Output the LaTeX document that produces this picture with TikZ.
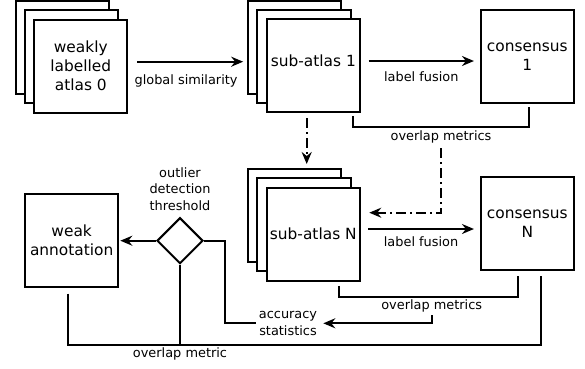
\documentclass[tikz,border=0pt]{standalone}
\usepackage{fontspec}
\setmainfont{DejaVu Sans}
\usetikzlibrary{arrows.meta,shapes.geometric}

\newcommand{\cardfont}{\fontsize{15.4}{19}\selectfont}
\newcommand{\tagfont}{\fontsize{12.9}{16.5}\selectfont}

\tikzset{
  card/.style={draw, line width=2pt, fill=white, minimum width=93.3pt,
    minimum height=93pt, inner sep=0pt, align=center, font=\cardfont},
  gate/.style={draw, line width=2pt, diamond, aspect=1, minimum size=46pt,
    inner sep=0pt},
  tag/.style={font=\tagfont, align=center, inner sep=1pt},
  wire/.style={line width=2pt},
  link/.style={wire, -{Stealth[length=12pt, width=10pt, inset=4pt]}},
  dashlink/.style={link, dash pattern=on 10pt off 4pt on 2pt off 4pt},
}

\begin{document}
\begin{tikzpicture}[x=1pt, y=-1pt]
\useasboundingbox (0,0) rectangle (585,368);

% weakly labelled atlas, three sheets
\node[card] (a0c) at (62.3,47.5) {};
\node[card] (a0b) at (71.5,56.8) {};
\node[card] (a0) at (80.8,66) {weakly\\labelled\\atlas 0};

% first sub-atlas
\node[card] (s1c) at (294.8,47) {};
\node[card] (s1b) at (304,56.2) {};
\node[card, text depth=9pt] (s1) at (313.3,65.5) {sub-atlas 1};

% last sub-atlas
\node[card] (sNc) at (294.8,215.5) {};
\node[card] (sNb) at (304,224.8) {};
\node[card] (sN) at (313.3,234) {sub-atlas N};

\node[card] (con1) at (527.3,56.3) {consensus\\1};
\node[card] (conN) at (527.3,223.7) {consensus\\N};
\node[card] (weak) at (71.7,240.7) {weak\\annotation};

\node[gate] (dia) at (180,240.7) {};
\node[tag] (thr) at (180,188.7) {outlier\\detection\\threshold};

\node[tag] (ov1) at (441,136.7) {overlap metrics};
\node[tag] (ov2) at (431.7,306) {overlap metrics};
\node[tag] (acc) at (288,323.3) {accuracy\\statistics};

% selection and fusion
\draw[link] ([shift={(9,-4.3)}]a0.east) -- ([shift={(-4,-4.3)}]a0.east -| s1c.west)
  node[tag, pos=.46, yshift=-19pt] (gs) {global similarity};
\draw[link] ([shift={(7.7,-4.5)}]s1.east) -- ([shift={(-5.7,-4.5)}]s1.east -| con1.west)
  node[tag, midway, yshift=-15.7pt] (lf1) {label fusion};
\draw[link] ([shift={(7.3,-5)}]sN.east) -- ([shift={(-5.7,-5)}]sN.east -| conN.west)
  node[tag, midway, yshift=-12.7pt] (lfN) {label fusion};

% overlap between sub-atlas and consensus
\draw[wire] ([shift={(-8,3.3)}]s1.south east) |- ([shift={(2,23.3)}]con1.south)
  -- ([shift={(2,3.3)}]con1.south);
\draw[wire] ([shift={(26,4.3)}]sN.south) |- ([shift={(-9.6,26)}]conN.south)
  -- ([shift={(-9.6,5)}]conN.south);

% iterate to the next sub-atlas
\draw[dashlink] ([shift={(-6.6,5)}]s1.south) -- ([shift={(-6.6,-4)}]s1.south |- sNc.north);
\draw[dashlink] (ov1.south) ++(0,4) |- ([shift={(8.3,-21.3)}]sN.east);

% statistics and outlier test
\draw[link, shorten >=5pt] (ov2.south) ++(0,2) |- (acc.east);
\draw[wire] ([xshift=-2pt]acc.west) -| ([xshift=20.6pt]dia.east) -- (dia.east);
\draw[link, shorten >=1pt] (dia.west) -- (weak.east);

% overlap against the weak annotation
\draw[wire] ([shift={(-3.4,5.4)}]weak.south) -- ++(0,51.3) coordinate (bus)
  -| ([shift={(13.4,5)}]conN.south);
\draw[wire] (dia.south) -- (dia.south |- bus);
\node[tag] (ovm) at ([yshift=-9.3pt]dia.south |- bus) {overlap metric};

\end{tikzpicture}
\end{document}
